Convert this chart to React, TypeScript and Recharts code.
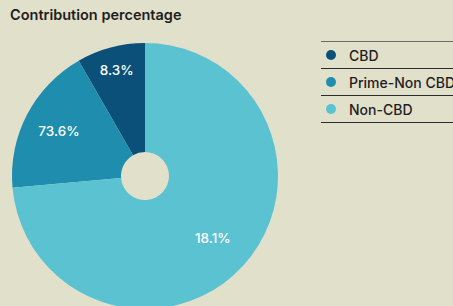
import { PieChart, Pie, Cell, Legend } from 'recharts'

const CATEGORIES = ['CBD', 'Prime-Non CBD', 'Non-CBD']
const SHARES = [8.3, 18.1, 73.6]
const SLICE_LABELS = ['8.3%', '73.6%', '18.1%']

const COLORS = ['#0b5079', '#1f8dad', '#5bc2d1']
const LABEL_R = [110, 97, 92]
const BG = '#e1e0ca'
const FONT = 'Inter, "Liberation Sans", Arial, sans-serif'
const RAD = Math.PI / 180

const data = CATEGORIES.map((name, i) => ({ name, value: SHARES[i], label: SLICE_LABELS[i] }))

function renderLabel({ cx, cy, midAngle, index }: any) {
  const r = LABEL_R[index]
  const x = cx + r * Math.cos(-midAngle * RAD)
  const y = cy + r * Math.sin(-midAngle * RAD)
  return (
    <text x={x} y={y} fill="#ffffff" textAnchor="middle" dominantBaseline="central"
      fontSize={13.5} fontWeight={500} fontFamily={FONT}>
      {data[index].label}
    </text>
  )
}

function LegendBox() {
  return (
    <div style={{ fontFamily: FONT, fontSize: 14, fontWeight: 500, color: '#1e1e1e', width: 140 }}>
      {data.map((d, i) => (
        <div key={d.name} style={{
          display: 'flex', alignItems: 'center', height: 26,
          borderTop: i === 0 ? '1px solid #6b6b64' : '1px solid #2b2b2b',
          borderBottom: i === data.length - 1 ? '1px solid #2b2b2b' : undefined,
        }}>
          <span style={{ width: 10, height: 10, borderRadius: '50%', background: COLORS[i], marginLeft: 5, marginRight: 13, flexShrink: 0 }} />
          <span style={{ whiteSpace: 'nowrap' }}>{d.name}</span>
        </div>
      ))}
    </div>
  )
}

export default function App() {
  return (
    <div style={{ position: 'fixed', left: 0, top: 0, width: 453, height: 306, background: BG, overflow: 'hidden' }}>
      <div style={{ position: 'absolute', left: 10, top: 6, fontFamily: FONT, fontSize: 14.5, fontWeight: 600, color: '#1e1e1e' }}>
        Contribution percentage
      </div>
      <PieChart width={453} height={306} margin={{ top: 0, right: 0, bottom: 0, left: 0 }}>
        <Pie
          data={data}
          dataKey="value"
          nameKey="name"
          cx={145}
          cy={176}
          innerRadius={24}
          outerRadius={133}
          startAngle={90}
          endAngle={450}
          stroke="none"
          label={renderLabel}
          labelLine={false}
          isAnimationActive={false}
        >
          {data.map((_, i) => <Cell key={i} fill={COLORS[i]} />)}
        </Pie>
        <Legend
          layout="vertical"
          align="right"
          verticalAlign="top"
          wrapperStyle={{ position: 'absolute', left: 321, top: 41, width: 140 }}
          content={() => <LegendBox />}
        />
      </PieChart>
    </div>
  )
}
